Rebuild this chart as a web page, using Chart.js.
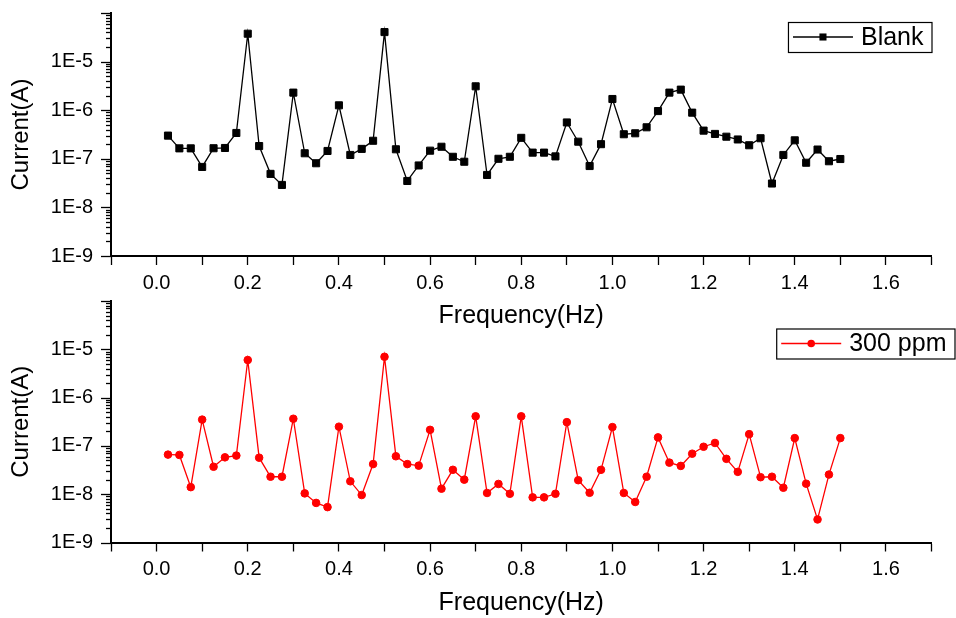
<!DOCTYPE html>
<html>
<head>
<meta charset="utf-8">
<script src="https://cdn.jsdelivr.net/npm/chart.js@4.4.1/dist/chart.umd.min.js"></script>
<style>
  body { margin: 0; background: #fff; }
  #wrap { position: relative; width: 956px; height: 618px; overflow: hidden; }
  canvas { position: absolute; left: 0; }
  #topChart { top: 0; }
  #bottomChart { top: 288px; }
</style>
</head>
<body>
<div id="wrap">
  <canvas id="topChart" width="956" height="332"></canvas>
  <canvas id="bottomChart" width="956" height="330"></canvas>
</div>
<script>
// frequency steps (Hz)
const freq = [
  0.025, 0.05, 0.075, 0.1, 0.125, 0.15, 0.175, 0.2, 0.225, 0.25,
  0.275, 0.3, 0.325, 0.35, 0.375, 0.4, 0.425, 0.45, 0.475, 0.5,
  0.525, 0.55, 0.575, 0.6, 0.625, 0.65, 0.675, 0.7, 0.725, 0.75,
  0.775, 0.8, 0.825, 0.85, 0.875, 0.9, 0.925, 0.95, 0.975, 1.0,
  1.025, 1.05, 1.075, 1.1, 1.125, 1.15, 1.175, 1.2, 1.225, 1.25,
  1.275, 1.3, 1.325, 1.35, 1.375, 1.4, 1.425, 1.45, 1.475, 1.5
];

// current (A)
const blank = [
  3.0e-7, 1.64e-7, 1.64e-7, 6.8e-8, 1.65e-7, 1.67e-7, 3.4e-7, 3.75e-5, 1.83e-7, 4.9e-8,
  2.9e-8, 2.3e-6, 1.3e-7, 8.1e-8, 1.45e-7, 1.26e-6, 1.2e-7, 1.6e-7, 2.35e-7, 4.05e-5,
  1.57e-7, 3.5e-8, 7.3e-8, 1.47e-7, 1.77e-7, 1.1e-7, 8.7e-8, 3.1e-6, 4.65e-8, 1.0e-7,
  1.1e-7, 2.7e-7, 1.34e-7, 1.34e-7, 1.12e-7, 5.6e-7, 2.25e-7, 7.1e-8, 2.0e-7, 1.7e-6,
  3.2e-7, 3.35e-7, 4.45e-7, 9.6e-7, 2.3e-6, 2.65e-6, 8.9e-7, 3.8e-7, 3.25e-7, 2.85e-7,
  2.5e-7, 1.9e-7, 2.65e-7, 3.1e-8, 1.2e-7, 2.4e-7, 8.3e-8, 1.55e-7, 8.9e-8, 9.9e-8
];

const ppm300 = [
  6.6e-8, 6.5e-8, 1.4e-8, 3.5e-7, 3.7e-8, 5.8e-8, 6.3e-8, 6.0e-6, 5.7e-8, 2.3e-8,
  2.3e-8, 3.65e-7, 1.04e-8, 6.6e-9, 5.4e-9, 2.5e-7, 1.85e-8, 9.6e-9, 4.2e-8, 7.0e-6,
  6.1e-8, 4.2e-8, 3.9e-8, 2.15e-7, 1.3e-8, 3.2e-8, 2.0e-8, 4.1e-7, 1.06e-8, 1.63e-8,
  1.02e-8, 4.1e-7, 8.6e-9, 8.6e-9, 1.02e-8, 3.1e-7, 1.95e-8, 1.07e-8, 3.2e-8, 2.45e-7,
  1.06e-8, 6.9e-9, 2.3e-8, 1.5e-7, 4.5e-8, 3.85e-8, 6.9e-8, 9.6e-8, 1.15e-7, 5.4e-8,
  2.9e-8, 1.75e-7, 2.25e-8, 2.3e-8, 1.36e-8, 1.45e-7, 1.65e-8, 3.0e-9, 2.55e-8, 1.45e-7
];

const xTickLabels = ['0.0', '0.2', '0.4', '0.6', '0.8', '1.0', '1.2', '1.4', '1.6'];
const yDecades = [1e-9, 1e-8, 1e-7, 1e-6, 1e-5];
const yTickLabels = ['1E-9', '1E-8', '1E-7', '1E-6', '1E-5'];

const FONT = '"Liberation Sans", Arial, sans-serif';
Chart.defaults.font.family = FONT;
Chart.defaults.color = '#000';

// log axis ticks: majors at each decade, minors 2..9 in between
function buildLogTicks(scale) {
  const ticks = [];
  yDecades.forEach(d => {
    ticks.push({ value: d, major: true });
    for (let m = 2; m <= 9; m++) ticks.push({ value: m * d, major: false });
  });
  ticks.push({ value: yDecades[yDecades.length - 1] * 10, major: true });
  scale.ticks = ticks;
}

function logLabel(value) {
  const i = yDecades.findIndex(d => Math.abs(value - d) / d < 1e-6);
  return i >= 0 ? yTickLabels[i] : '';
}

// short outward ticks on the log axis, longer ones at the decades
const yTickMarks = {
  id: 'yTickMarks',
  afterDraw(chart) {
    const s = chart.scales.y;
    const ctx = chart.ctx;
    ctx.save();
    ctx.strokeStyle = '#000';
    ctx.lineWidth = 1.3;
    s.ticks.forEach(t => {
      const py = Math.round(s.getPixelForValue(t.value)) + 0.5;
      const len = t.major ? 10 : 5;
      ctx.beginPath();
      ctx.moveTo(s.right - len, py);
      ctx.lineTo(s.right, py);
      ctx.stroke();
    });
    ctx.restore();
  }
};

// boxed legend in the upper right corner
const boxLegend = {
  id: 'boxLegend',
  afterDraw(chart, args, opts) {
    const ds = chart.data.datasets[0];
    const ctx = chart.ctx;
    ctx.save();
    ctx.font = '25px ' + FONT;
    const textW = ctx.measureText(ds.label).width;
    const w = 5 + 60 + 8 + textW + 8;
    const h = 30;
    const right = chart.chartArea.right + opts.dx;
    const left = right - w;
    const top = chart.chartArea.top + opts.dy;
    const cy = top + h / 2;

    ctx.strokeStyle = '#000';
    ctx.lineWidth = 1.2;
    ctx.strokeRect(left + 0.5, top + 0.5, w, h);

    ctx.strokeStyle = ds.borderColor;
    ctx.lineWidth = ds.borderWidth;
    ctx.beginPath();
    ctx.moveTo(left + 5, cy);
    ctx.lineTo(left + 65, cy);
    ctx.stroke();

    ctx.fillStyle = ds.pointBackgroundColor;
    const cx = left + 35;
    if (ds.pointStyle === 'rect') {
      const half = ds.pointRadius * Math.SQRT1_2;
      ctx.fillRect(cx - half, cy - half, half * 2, half * 2);
    } else {
      ctx.beginPath();
      ctx.arc(cx, cy, ds.pointRadius, 0, Math.PI * 2);
      ctx.fill();
    }

    ctx.fillStyle = '#000';
    ctx.textBaseline = 'middle';
    ctx.fillText(ds.label, left + 73, cy + 1);
    ctx.restore();
  }
};

function makePanel(id, label, values, color, pointStyle, radius, xAxisHeight, titlePad, legendPos) {
  const ctx = document.getElementById(id).getContext('2d');
  return new Chart(ctx, {
    type: 'line',
    data: {
      datasets: [{
        label: label,
        data: freq.map((f, i) => ({ x: f, y: values[i] })),
        borderColor: color,
        backgroundColor: color,
        borderWidth: 1.3,
        pointStyle: pointStyle,
        pointRadius: radius,
        pointBackgroundColor: color,
        pointBorderColor: color,
        pointBorderWidth: 1,
        tension: 0
      }]
    },
    options: {
      responsive: false,
      animation: false,
      layout: { padding: { top: 13, right: 24.5, left: 0, bottom: 0 } },
      plugins: {
        legend: { display: false },
        tooltip: { enabled: false },
        boxLegend: legendPos
      },
      scales: {
        x: {
          type: 'linear',
          min: -0.1,
          max: 1.7,
          ticks: {
            stepSize: 0.1,
            autoSkip: false,
            maxRotation: 0,
            padding: 6,
            font: { size: 20 },
            callback(v) {
              const s = Number(v).toFixed(1);
              return xTickLabels.includes(s) ? s : '';
            }
          },
          grid: { drawOnChartArea: false, tickLength: 9, tickColor: '#000', tickWidth: 1.3 },
          border: { color: '#000', width: 2 },
          title: { display: true, text: 'Frequency(Hz)', font: { size: 25 }, padding: { top: 0, bottom: titlePad } },
          afterFit(scale) { scale.height = xAxisHeight; }
        },
        y: {
          type: 'logarithmic',
          min: 1e-9,
          max: 1e-4,
          afterBuildTicks: buildLogTicks,
          ticks: { autoSkip: false, padding: 0, font: { size: 20 }, callback: logLabel },
          // invisible tick marks only reserve the gap before the labels
          grid: { drawOnChartArea: false, tickLength: 18, tickColor: 'rgba(0,0,0,0)' },
          border: { color: '#000', width: 2 },
          title: { display: true, text: 'Current(A)', font: { size: 24 }, padding: { top: 7, bottom: 0 } },
          afterFit(scale) { scale.width = 111; }
        }
      }
    },
    plugins: [yTickMarks, boxLegend]
  });
}

makePanel('topChart', 'Blank', blank, '#000000', 'rect', 5, 76, 1, { dx: 0, dy: 9 });
makePanel('bottomChart', '300 ppm', ppm300, '#ff0000', 'circle', 3.8, 75.5, 0, { dx: 23, dy: 27.5 });
</script>
</body>
</html>
